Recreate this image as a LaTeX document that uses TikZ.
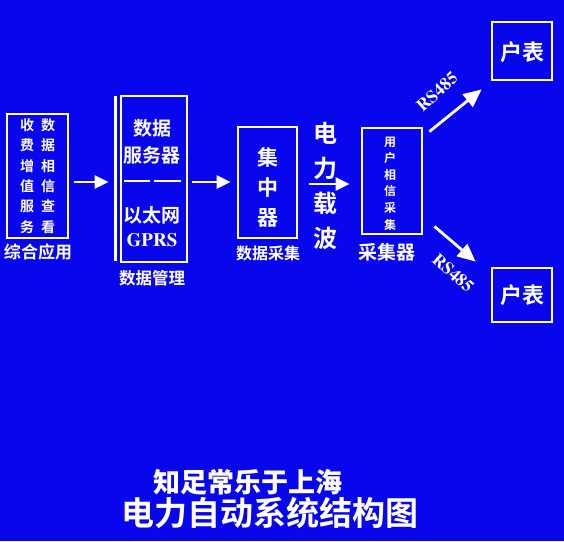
\documentclass[tikz,border=0pt]{standalone}
\usepackage{fontspec}
\newfontfamily\cjk{Noto Sans CJK SC Bold}
\newfontfamily\cjkb{Noto Sans CJK SC Black}
\newfontfamily\lserif{texgyretermes-bold.otf}
\usetikzlibrary{arrows.meta,calc}
\definecolor{bgblue}{RGB}{8,6,236}
\tikzset{
  box/.style={draw=white,line width=2.8pt,minimum width=#1,inner sep=0pt},
  txt/.style={text=white,inner sep=0pt,align=center},
  arr/.style={draw=white,line width=2.6pt,-{Triangle[length=14pt,width=13pt]}},
  darr/.style={draw=white,line width=2.8pt,-{Triangle[length=18pt,width=16pt]}},
}
\begin{document}
\begin{tikzpicture}[x=1pt,y=-1pt]
\useasboundingbox (0,0) rectangle (564,541);
\fill[bgblue] (0,0) rectangle (564,541);

% box 1
\node[box=61pt,minimum height=124pt] (app) at (37.5,176) {};
\node[txt,font=\cjk\fontsize{14}{20.4}\selectfont] (c1) at (27,176) {收\\费\\增\\值\\服\\务};
\node[txt,font=\cjk\fontsize{14}{20.4}\selectfont] (c2) at (48,176) {数\\据\\相\\信\\查\\看};
\node[txt,font=\cjk\fontsize{17}{17}\selectfont] (applbl) at (38,252) {综合应用};

% box 2
\node[box=66pt,minimum height=166pt] (srv) at (154,179) {};
\draw[white,line width=2.8pt] ([shift={(-4.5,1)}]srv.north west) -- ([shift={(-4.5,-2)}]srv.south west);
\node[txt,font=\cjk\fontsize{19}{19}\selectfont] (s1) at (152,128) {数据};
\node[txt,font=\cjk\fontsize{19}{19}\selectfont] (s2) at (152,155) {服务器};
\coordinate (d1a) at (124,181); \coordinate (d1b) at (150,181);
\coordinate (d2a) at (154,181); \coordinate (d2b) at (181,181);
\draw[white,line width=2.6pt] (d1a) -- (d1b) (d2a) -- (d2b);
\node[txt,font=\cjk\fontsize{19}{19}\selectfont] (s3) at (152,215) {以太网};
\node[txt,font=\lserif\fontsize{19}{19}\selectfont] (s4) at (152,240) {GPRS};
\node[txt,font=\cjk\fontsize{16.5}{16.5}\selectfont] (srvlbl) at (152,278) {数据管理};

% box 3
\node[box=59pt,minimum height=111pt] (conc) at (267.5,182.5) {};
\node[txt,font=\cjk\fontsize{21}{30}\selectfont] (ct) at (268,187) {集\\中\\器};
\node[txt,font=\cjk\fontsize{16}{16}\selectfont] (conclbl) at (268,253) {数据采集};

% carrier text
\node[txt,font=\cjk\fontsize{24}{35}\selectfont] (plc) at (325,185.5) {电\\力\\载\\波};

% box 4
\node[box=60pt,minimum height=106pt] (coll) at (392,181) {};
\node[txt,font=\cjk\fontsize{12}{16.6}\selectfont] (colt) at (390,183.5) {用\\户\\相\\信\\采\\集};
\node[txt,font=\cjk\fontsize{19}{19}\selectfont] (colllbl) at (387,252) {采集器};

% meters
\node[box=60pt,minimum height=58pt] (m1) at (522,51) {};
\node[txt,font=\cjk\fontsize{22}{22}\selectfont] (m1t) at (522,52) {户表};
\node[box=60pt,minimum height=54pt] (m2) at (522,295) {};
\node[txt,font=\cjk\fontsize{22}{22}\selectfont] (m2t) at (522,295) {户表};

% arrows
\draw[arr] ([shift={(5,6)}]app.east) -- ([shift={(-11,3)}]srv.west);
\draw[arr] ([shift={(4,3)}]srv.east) -- ([shift={(-6,-0.5)}]conc.west);
\draw[arr] ([shift={(11,1.5)}]conc.east) -- ([shift={(-11,3)}]coll.west);
\draw[darr] ([shift={(6,5)}]coll.north east) -- ([shift={(-9,8)}]m1.south west);
\draw[darr] ([shift={(11,-9)}]coll.south east) -- ([shift={(-15,-5)}]m2.north west);

\node[txt,font=\lserif\fontsize{17.5}{17.5}\selectfont,rotate=42] (rs1) at (437,92) {RS485};
\node[txt,font=\lserif\fontsize{17.5}{17.5}\selectfont,rotate=-42] (rs2) at (453,273) {RS485};

% titles
\node[txt,font=\cjkb\fontsize{27}{27}\selectfont] (sig) at (248,482) {知足常乐于上海};
\node[txt,font=\cjk\fontsize{33}{33}\selectfont] (title) at (270,513) {电力自动系统结构图};
\end{tikzpicture}
\end{document}
